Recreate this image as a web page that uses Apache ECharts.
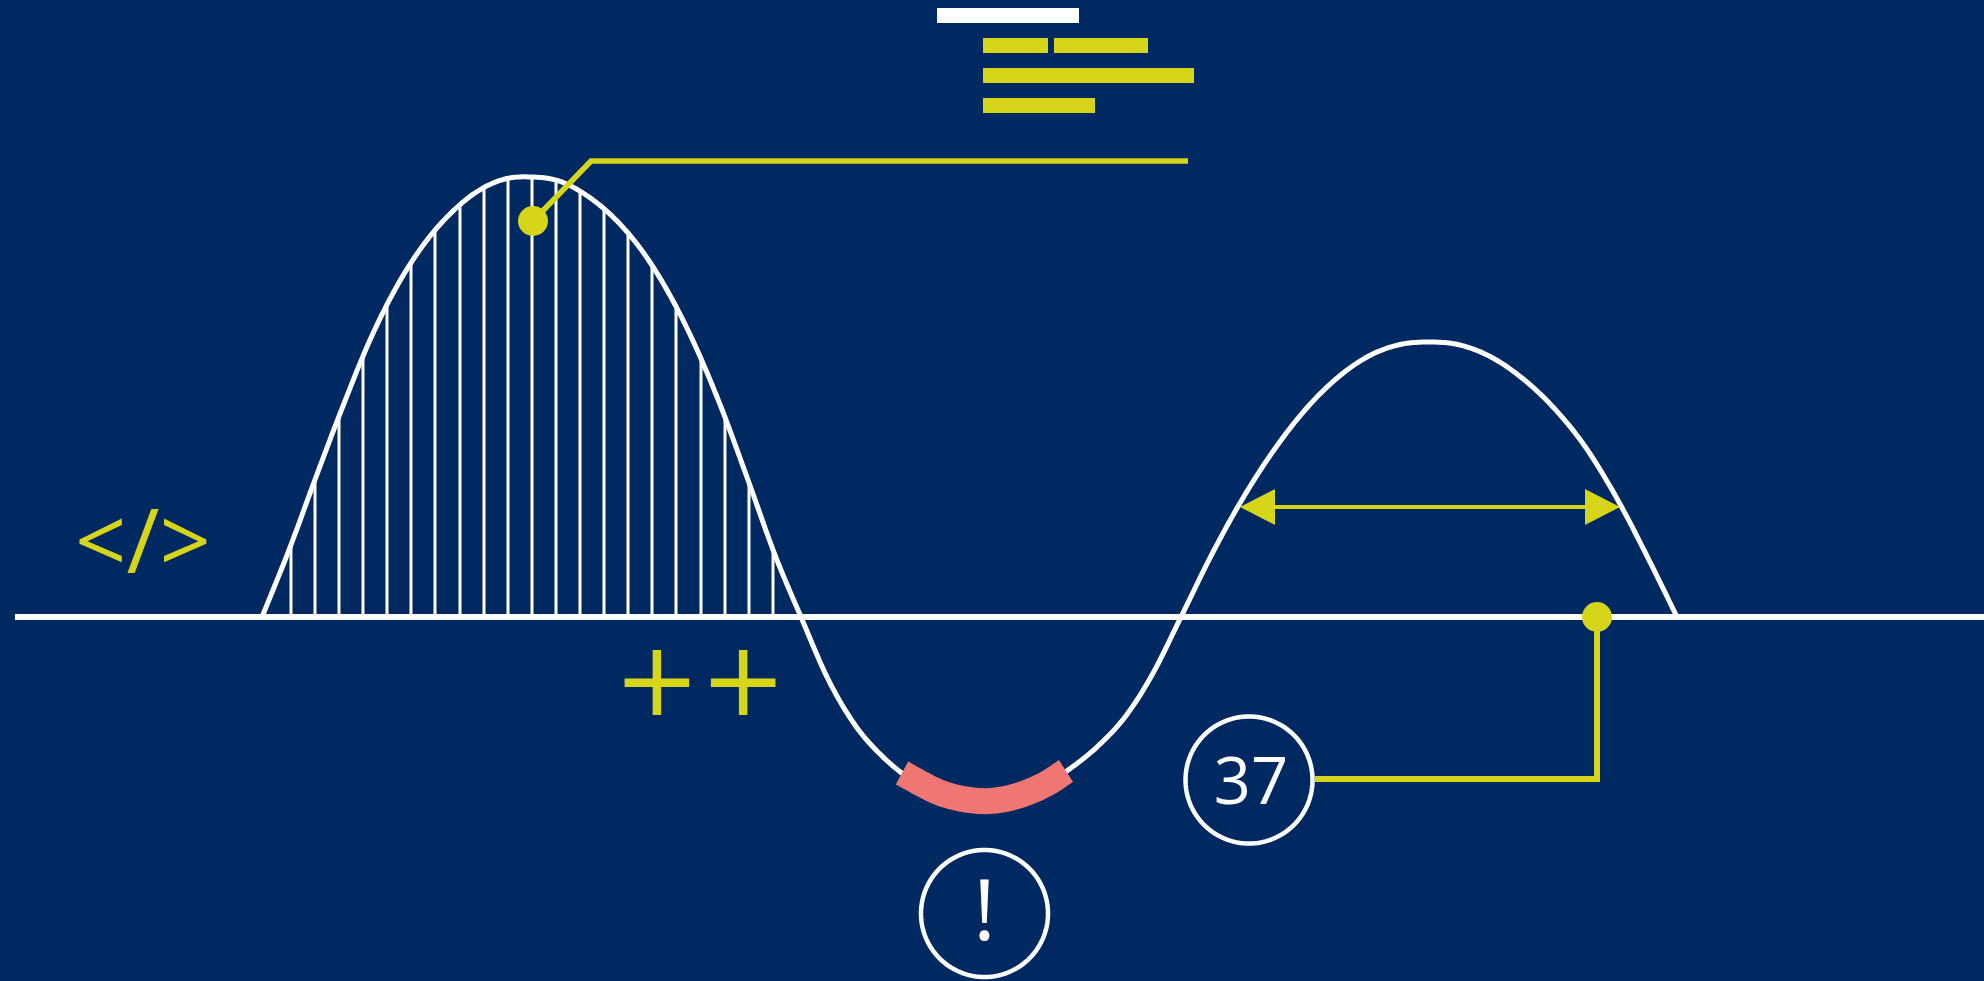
<!DOCTYPE html>
<html><head><meta charset="utf-8">
<script src="https://cdn.jsdelivr.net/npm/echarts@6/dist/echarts.min.js"></script>
<style>html,body{margin:0;padding:0;background:#002962;}#c{width:1984px;height:981px;}</style>
</head><body><div id="c"></div>
<script>
// ---- data (chart units: x along the axis, y = height above the axis line) ----
const curveX = [262,289,316,343,370,397,424,451,478,505,532,559,586,613,640,667,694,721,748,775,801,
                828,855,882,909,936,963,990,1017,1044,1071,1098,1125,1152,1181,
                1212,1243,1274,1305,1336,1367,1398,1429,1460,1491,1522,1553,1584,1615,1646,1677];
const curveY = [0,67,140,211,277,331,373,404,426,438,440,436,422,400,369,327,274,210,137,62,0,
                -62,-108,-139,-161,-174,-182,-184,-179,-168,-151,-129,-100,-58,0,
                63,119,167,207,238,260,272,275,272,260,239,210,172,122,63,0];
const stripeX = [291,315,339,363,387,411,435,460,484,508,532,556,580,604,628,652,676,701,725,749,773];
const stripeH = [74,139,203,262,313,355,388,413,431,440,442,438,427,410,385,352,313,260,201,136,68];
const troughX = [902,936,963,990,1017,1044,1066];
const troughY = [-156,-174,-182,-184,-179,-168,-154];
const axisX = [15,1984];
const axisY = [0,0];
const leaderX = [533,591,1188];
const leaderY = [396,456,456];
const connX = [1315,1597,1597];
const connY = [-162,-162,0];
const dotX = [533,1597];
const dotY = [396,0];
const arrowSpan = [1240,1620,110];
const barStart = [937,983,1054,983,983];
const barEnd = [1079,1048,1148,1194,1095];
const barLevel = [601.5,571.5,571.5,541.5,511.5];
const barKind = ['title','text','text','text','text'];
const circleX = [984.5,1249];
const circleY = [-296.5,-163];
const circleText = ['!','37'];
const markText = ['</>','++'];
const markX = [143,700];
const markY = [70,-71];

// ---- styles ----
const BG = '#002962', WHITE = '#ffffff', YEL = '#d7d51a', RED = '#ef7673';
const zip = (xs, ys) => xs.map((x, i) => [x, ys[i]]);

// smooth (Catmull-Rom) path through data points converted by the axes
function smoothPoints(api, xs, ys, steps) {
  const P = xs.map((x, i) => api.coord([x, ys[i]]));
  const n = P.length, out = [];
  const g = k => P[Math.max(0, Math.min(n - 1, k))];
  for (let i = 0; i < n - 1; i++) {
    const p0 = g(i - 1), p1 = g(i), p2 = g(i + 1), p3 = g(i + 2);
    const c1 = [p1[0] + (p2[0] - p0[0]) / 6, p1[1] + (p2[1] - p0[1]) / 6];
    const c2 = [p2[0] - (p3[0] - p1[0]) / 6, p2[1] - (p3[1] - p1[1]) / 6];
    for (let s = 0; s < steps; s++) {
      const t = s / steps, u = 1 - t;
      const a = u * u * u, b = 3 * u * u * t, c = 3 * u * t * t, d = t * t * t;
      out.push([a * p1[0] + b * c1[0] + c * c2[0] + d * p2[0],
                a * p1[1] + b * c1[1] + c * c2[1] + d * p2[1]]);
    }
  }
  out.push(P[n - 1]);
  return out;
}
function smoothSeries(xs, ys, color, width, z) {
  return {
    type: 'custom', silent: true, z: z,
    data: zip(xs, ys),
    renderItem: (p, api) => {
      if (p.dataIndex !== 0) return null;
      return {type: 'polyline', shape: {points: smoothPoints(api, xs, ys, 14)},
              style: {stroke: color, lineWidth: width, fill: 'none', lineJoin: 'round', lineCap: 'butt'}};
    }
  };
}
function ring(cx, cy, r) {
  const pts = [];
  for (let k = 0; k < 240; k++) {
    const a = k / 240 * Math.PI * 2;
    pts.push([cx + r * Math.cos(a), cy + r * Math.sin(a)]);
  }
  return pts;
}

const chart = echarts.init(document.getElementById('c'), null, {renderer: 'canvas'});
chart.setOption({
  backgroundColor: BG,
  animation: false,
  grid: {left: 0, right: 0, top: 0, bottom: 0},
  xAxis: {type: 'value', min: 0, max: 1984, show: false},
  yAxis: {type: 'value', min: -364, max: 617, show: false},
  series: [
    {
      type: 'custom', silent: true, z: 1,
      data: zip(stripeX, stripeH),
      renderItem: (p, api) => {
        const a = api.coord([api.value(0), 0]);
        const b = api.coord([api.value(0), api.value(1)]);
        return {type: 'line', shape: {x1: a[0], y1: a[1], x2: b[0], y2: b[1]},
                style: {stroke: WHITE, lineWidth: 3}};
      }
    },
    {type: 'line', silent: true, z: 2, symbol: 'none', data: zip(axisX, axisY),
     lineStyle: {color: WHITE, width: 6}},
    smoothSeries(curveX, curveY, WHITE, 5, 3),
    smoothSeries(troughX, troughY, RED, 26, 4),
    {type: 'line', silent: true, z: 4, symbol: 'none', data: zip(leaderX, leaderY),
     lineStyle: {color: YEL, width: 5.5, join: 'miter'}},
    {type: 'line', silent: true, z: 4, symbol: 'none', data: zip(connX, connY),
     lineStyle: {color: YEL, width: 6, join: 'miter'}},
    {type: 'scatter', silent: true, z: 5, symbolSize: 30, data: zip(dotX, dotY),
     itemStyle: {color: YEL, opacity: 1}},
    {
      type: 'custom', silent: true, z: 5,
      data: [arrowSpan],
      renderItem: (p, api) => {
        const l = api.coord([api.value(0), api.value(2)]);
        const r = api.coord([api.value(1), api.value(2)]);
        const L = 35, H = 18;
        return {type: 'group', children: [
          {type: 'line', shape: {x1: l[0] + L - 1, y1: l[1], x2: r[0] - L + 1, y2: r[1]}, style: {stroke: YEL, lineWidth: 4}},
          {type: 'polygon', shape: {points: [[l[0], l[1]], [l[0] + L, l[1] - H], [l[0] + L, l[1] + H]]}, style: {fill: YEL}},
          {type: 'polygon', shape: {points: [[r[0], r[1]], [r[0] - L, r[1] - H], [r[0] - L, r[1] + H]]}, style: {fill: YEL}}
        ]};
      }
    },
    {
      type: 'custom', silent: true, z: 5,
      data: barStart.map((s, i) => [s, barEnd[i], barLevel[i], i]),
      renderItem: (p, api) => {
        const a = api.coord([api.value(0), api.value(2)]);
        const b = api.coord([api.value(1), api.value(2)]);
        const k = barKind[api.value(3)];
        return {type: 'rect', shape: {x: a[0], y: a[1] - 7.5, width: b[0] - a[0], height: 15},
                style: {fill: k === 'title' ? WHITE : YEL}};
      }
    },
    {
      type: 'custom', silent: true, z: 6,
      data: zip(circleX, circleY),
      renderItem: (p, api) => {
        const c = api.coord([api.value(0), api.value(1)]);
        const i = p.dataIndex;
        const fs = i === 0 ? 85 : 65;
        const off = i === 0 ? [0, 2] : [2, 5];
        return {type: 'group', children: [
          {type: 'polygon', shape: {points: ring(c[0], c[1], 63.5)},
           style: {fill: BG, stroke: WHITE, lineWidth: 4.5, lineJoin: 'round'}},
          {type: 'text', x: c[0] + off[0], y: c[1] + off[1],
           style: {text: circleText[i], fill: WHITE, fontSize: fs, fontFamily: 'Open Sans',
                   fontWeight: 400, align: 'center', verticalAlign: 'middle'}}
        ]};
      }
    },
    {
      type: 'scatter', silent: true, z: 6, symbolSize: 0,
      itemStyle: {color: YEL, opacity: 1},
      data: markX.map((x, i) => ({
        value: [x, markY[i]], name: markText[i],
        label: i === 0 ? {fontFamily: 'Open Sans', fontWeight: 400, fontSize: 90}
                       : {fontFamily: 'DejaVu Sans', fontWeight: 'normal', fontSize: 103}
      })),
      label: {show: true, position: 'inside', formatter: p => p.name, color: YEL, opacity: 1,
              textBorderWidth: 0, textShadowBlur: 0}
    }
  ]
});
</script></body></html>
